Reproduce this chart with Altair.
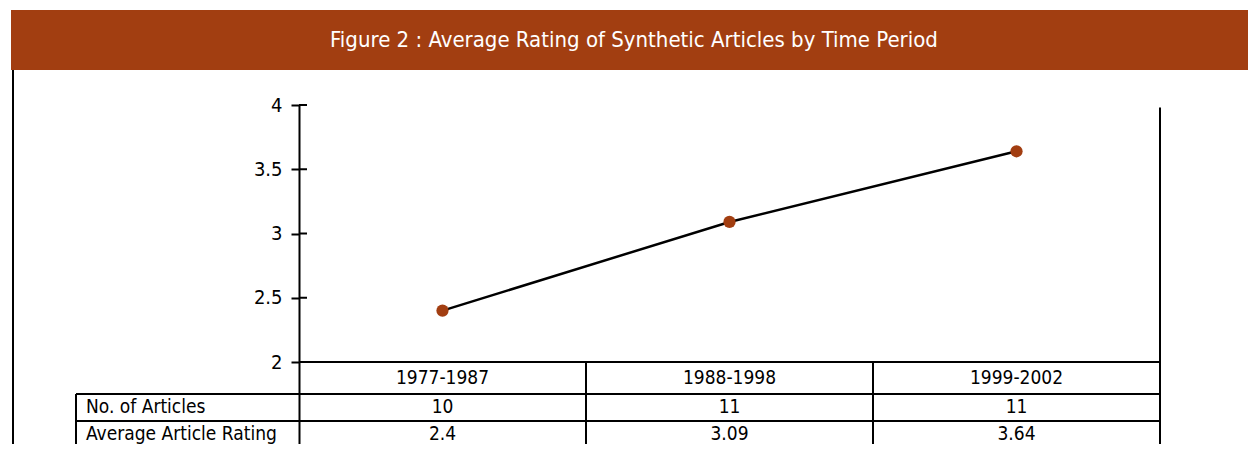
import altair as alt
import pandas as pd

# ---- data ----
periods = ["1977-1987", "1988-1998", "1999-2002"]
n_articles = [10, 11, 11]
avg_rating = [2.4, 3.09, 3.64]
row_labels = ["No. of Articles", "Average Article Rating"]
y_ticks = [2, 2.5, 3, 3.5, 4]
title_text = "Figure 2 : Average Rating of Synthetic Articles by Time Period"

# ---- style / layout ----
FONT = "DejaVu Sans Condensed"
BROWN = "#A23E11"
PX_PER_UNIT = 128.5
W, H = 861, 339
Y_MAX = 4.0
Y_MIN = Y_MAX - H / PX_PER_UNIT
X_MAX = len(periods)
LABEL_X0 = -0.777          # left edge of the row-label box, in column units
ROW_EDGES = [2.0, 1.751, 1.541, 1.3385]   # table row boundaries in y units
LW = 2
FS = 19

xs = [i + 0.5 for i in range(len(periods))]
df = pd.DataFrame({"period": periods, "x": xs, "n": n_articles, "rating": avg_rating})

row_mid = [(ROW_EDGES[i] + ROW_EDGES[i + 1]) / 2 for i in range(3)]
cells = []
for i, p in enumerate(periods):
    cells.append({"x": xs[i], "y": row_mid[0], "t": p})
    cells.append({"x": xs[i], "y": row_mid[1], "t": str(n_articles[i])})
    cells.append({"x": xs[i], "y": row_mid[2], "t": f"{avg_rating[i]:g}"})
cells_df = pd.DataFrame(cells)

labels_df = pd.DataFrame({"x": [LABEL_X0 + 0.035] * 2, "y": row_mid[1:], "t": row_labels})

segs = []
segs.append({"x": 0, "x2": X_MAX, "y": ROW_EDGES[0], "y2": ROW_EDGES[0]})
for e in ROW_EDGES[1:3]:
    segs.append({"x": LABEL_X0, "x2": X_MAX, "y": e, "y2": e})
for c in range(1, X_MAX):
    segs.append({"x": c, "x2": c, "y": ROW_EDGES[0], "y2": Y_MIN})
segs.append({"x": X_MAX, "x2": X_MAX, "y": Y_MAX - 0.02, "y2": Y_MIN})
segs.append({"x": LABEL_X0, "x2": LABEL_X0, "y": ROW_EDGES[1], "y2": Y_MIN})
segs_df = pd.DataFrame(segs)

xscale = alt.Scale(domain=[0, X_MAX], nice=False, zero=False)
yscale = alt.Scale(domain=[Y_MIN, Y_MAX], nice=False, zero=False)

base_x = alt.X("x:Q", scale=xscale, axis=None)

line = alt.Chart(df).mark_line(color="black", strokeWidth=2.5).encode(
    x=base_x,
    y=alt.Y("rating:Q", scale=yscale,
            axis=alt.Axis(values=y_ticks, format="~g", title=None, grid=False,
                          domainColor="black", domainWidth=LW, tickColor="black",
                          tickWidth=LW, tickSize=8, labelFont=FONT, labelFontSize=20,
                          labelColor="black", labelPadding=9)),
)
points = alt.Chart(df).mark_point(filled=True, color=BROWN, size=150, opacity=1).encode(
    x=base_x, y=alt.Y("rating:Q", scale=yscale)
)

inner_ticks = alt.Chart(pd.DataFrame({"t": y_ticks})).mark_rule(
    color="black", strokeWidth=LW
).encode(y=alt.Y("t:Q", scale=yscale), x=alt.value(0), x2=alt.value(8))

grid = alt.Chart(segs_df).mark_rule(color="black", strokeWidth=LW).encode(
    x=base_x, x2="x2:Q", y=alt.Y("y:Q", scale=yscale), y2="y2:Q"
)

cell_text = alt.Chart(cells_df).mark_text(
    font=FONT, fontSize=FS, color="black", baseline="middle", align="center"
).encode(x=base_x, y=alt.Y("y:Q", scale=yscale), text="t:N")

label_text = alt.Chart(labels_df).mark_text(
    font=FONT, fontSize=FS, color="black", baseline="middle", align="left"
).encode(x=base_x, y=alt.Y("y:Q", scale=yscale), text="t:N")

one = pd.DataFrame({"a": [0]})
banner = alt.Chart(one).mark_rect(color=BROWN).encode(
    x=alt.value(-288), x2=alt.value(957), y=alt.value(-95), y2=alt.value(-35)
)
title = alt.Chart(one).mark_text(
    font=FONT, fontSize=22, color="white", baseline="middle", align="center"
).encode(x=alt.value(335), y=alt.value(-65), text=alt.value(title_text))
left_border = alt.Chart(one).mark_rule(color="black", strokeWidth=LW).encode(
    x=alt.value(-286), y=alt.value(-35), y2=alt.value(H)
)

chart = alt.layer(
    banner, title, left_border, grid, inner_ticks, line, points, cell_text, label_text
).properties(
    width=W, height=H,
    padding={"left": 291, "top": 97, "right": 88, "bottom": 0},
    autosize=alt.AutoSizeParams(type="none"),
    background="white",
).configure_view(stroke="transparent", strokeWidth=0)

chart.save("out.html", embed_options={"renderer": "svg", "actions": False})
